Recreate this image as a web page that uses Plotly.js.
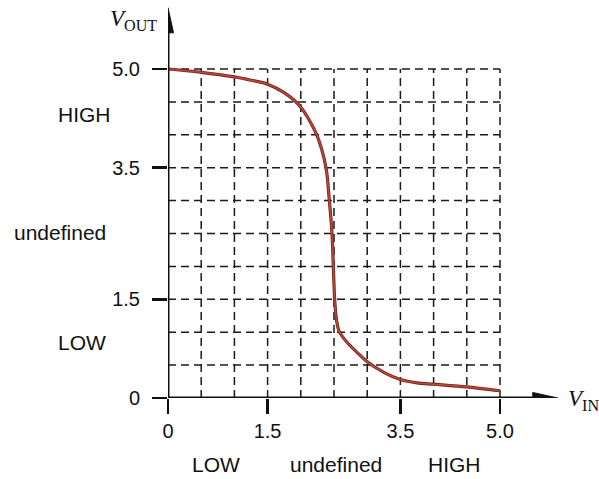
<!DOCTYPE html>
<html>
<head>
<meta charset="utf-8">
<script src="https://cdn.plot.ly/plotly-3.0.1.min.js"></script>
<style>html,body{margin:0;padding:0;background:#fff;}#chart{width:599px;height:479px;}</style>
</head>
<body>
<div id="chart"></div>
<script>
// Transfer characteristic data (V_IN, V_OUT)
const vIn  = [0, 0.5, 1.0, 1.25, 1.5, 1.75, 2.0, 2.24, 2.38, 2.43, 2.47, 2.49, 2.51, 2.54, 2.575, 2.63, 2.72, 2.85, 3.0, 3.25, 3.5, 3.75, 4.0, 4.5, 5.0];
const vOut = [5.0, 4.95, 4.88, 4.83, 4.77, 4.64, 4.42, 4.0, 3.5, 3.0, 2.5, 2.0, 1.5, 1.17, 1.02, 0.93, 0.82, 0.69, 0.55, 0.39, 0.28, 0.23, 0.21, 0.17, 0.11];

const tickVals = [0, 1.5, 3.5, 5.0];
const tickText = ['0', '1.5', '3.5', '5.0'];
const gridVals = [0.5, 1.0, 1.5, 2.0, 2.5, 3.0, 3.5, 4.0, 4.5, 5.0];

const yLevelLabels = ['HIGH', 'undefined', 'LOW'];
const xLevelLabels = ['LOW', 'undefined', 'HIGH'];

const M = {l: 168, r: 39, t: 7, b: 81};
const W = 599, H = 479;
const PW = W - M.l - M.r, PH = H - M.t - M.b;
const px2x = p => (p - M.l) / PW;
const py2y = p => (H - M.b - p) / PH;

const font = 'Liberation Sans, Arial, Helvetica, sans-serif';
const serif = 'Liberation Serif, Times New Roman, serif';

const shapes = [];
gridVals.forEach(v => {
  shapes.push({type: 'line', xref: 'x', yref: 'y', x0: v, x1: v, y0: 0, y1: 5.0, layer: 'below',
    line: {color: '#1a1a1a', width: 1.5, dash: '8px,5px'}});
  shapes.push({type: 'line', xref: 'x', yref: 'y', x0: 0, x1: 5.0, y0: v, y1: v, layer: 'below',
    line: {color: '#1a1a1a', width: 1.5, dash: '8px,5px'}});
});
// axes with arrows
shapes.push({type: 'line', xref: 'x', yref: 'y', x0: 0, x1: 5.6, y0: 0, y1: 0, line: {color: '#111', width: 3}});
shapes.push({type: 'line', xref: 'x', yref: 'y', x0: 0, x1: 0, y0: 0, y1: 5.7, line: {color: '#111', width: 3}});
shapes.push({type: 'path', xref: 'x', yref: 'y', xsizemode: 'pixel', ysizemode: 'pixel', xanchor: 5.87, yanchor: 0,
  path: 'M 0 0 L -25 5.5 L -25 -5.5 Z', fillcolor: '#111', line: {color: '#111', width: 1}});
shapes.push({type: 'path', xref: 'x', yref: 'y', xsizemode: 'pixel', ysizemode: 'pixel', xanchor: 0, yanchor: 5.93,
  path: 'M 0 0 L -5.5 -25 L 5.5 -25 Z', fillcolor: '#111', line: {color: '#111', width: 1}});

const annotations = [];
const yLabPos = [[84, 114], [60, 233], [82, 342]];
yLevelLabels.forEach((t, i) => annotations.push({xref: 'paper', yref: 'paper', x: px2x(yLabPos[i][0]), y: py2y(yLabPos[i][1]),
  text: t, showarrow: false, xanchor: 'center', yanchor: 'middle', font: {family: font, size: 21, color: '#111'}}));
const xLabPos = [[216, 464], [336, 464], [454, 464]];
xLevelLabels.forEach((t, i) => annotations.push({xref: 'paper', yref: 'paper', x: px2x(xLabPos[i][0]), y: py2y(xLabPos[i][1]),
  text: t, showarrow: false, xanchor: 'center', yanchor: 'middle', font: {family: font, size: 21, color: '#111'}}));
annotations.push({xref: 'paper', yref: 'paper', x: px2x(133), y: py2y(20), text: '<i>V</i><sub>OUT</sub>', showarrow: false,
  xanchor: 'center', yanchor: 'middle', font: {family: serif, size: 23, color: '#111'}});
annotations.push({xref: 'paper', yref: 'paper', x: px2x(583), y: py2y(400), text: '<i>V</i><sub>IN</sub>', showarrow: false,
  xanchor: 'center', yanchor: 'middle', font: {family: serif, size: 23, color: '#111'}});

const traces = [
  {x: vIn, y: vOut, type: 'scatter', mode: 'lines', line: {color: '#74251c', width: 3.2, shape: 'spline', smoothing: 0.8}, cliponaxis: false, hoverinfo: 'skip'},
  {x: vIn, y: vOut, type: 'scatter', mode: 'lines', line: {color: '#bb4a3c', width: 1.5, shape: 'spline', smoothing: 0.8}, cliponaxis: false, hoverinfo: 'skip'}
];

const axisCommon = {showgrid: false, zeroline: false, showline: false, ticks: 'outside', ticklen: 15, tickwidth: 2.5,
  tickcolor: '#111', tickfont: {family: font, size: 20, color: '#111'}, tickmode: 'array', tickvals: tickVals, ticktext: tickText, fixedrange: true};

const layout = {
  width: W, height: H, margin: M, showlegend: false,
  paper_bgcolor: '#fff', plot_bgcolor: '#fff',
  xaxis: Object.assign({}, axisCommon, {range: [0, PW / 66.4]}),
  yaxis: Object.assign({}, axisCommon, {range: [0, PH / 65.8], ticklabelstandoff: 8}),
  shapes: shapes, annotations: annotations
};

Plotly.newPlot('chart', traces, layout, {displayModeBar: false, staticPlot: true});
</script>
</body>
</html>
